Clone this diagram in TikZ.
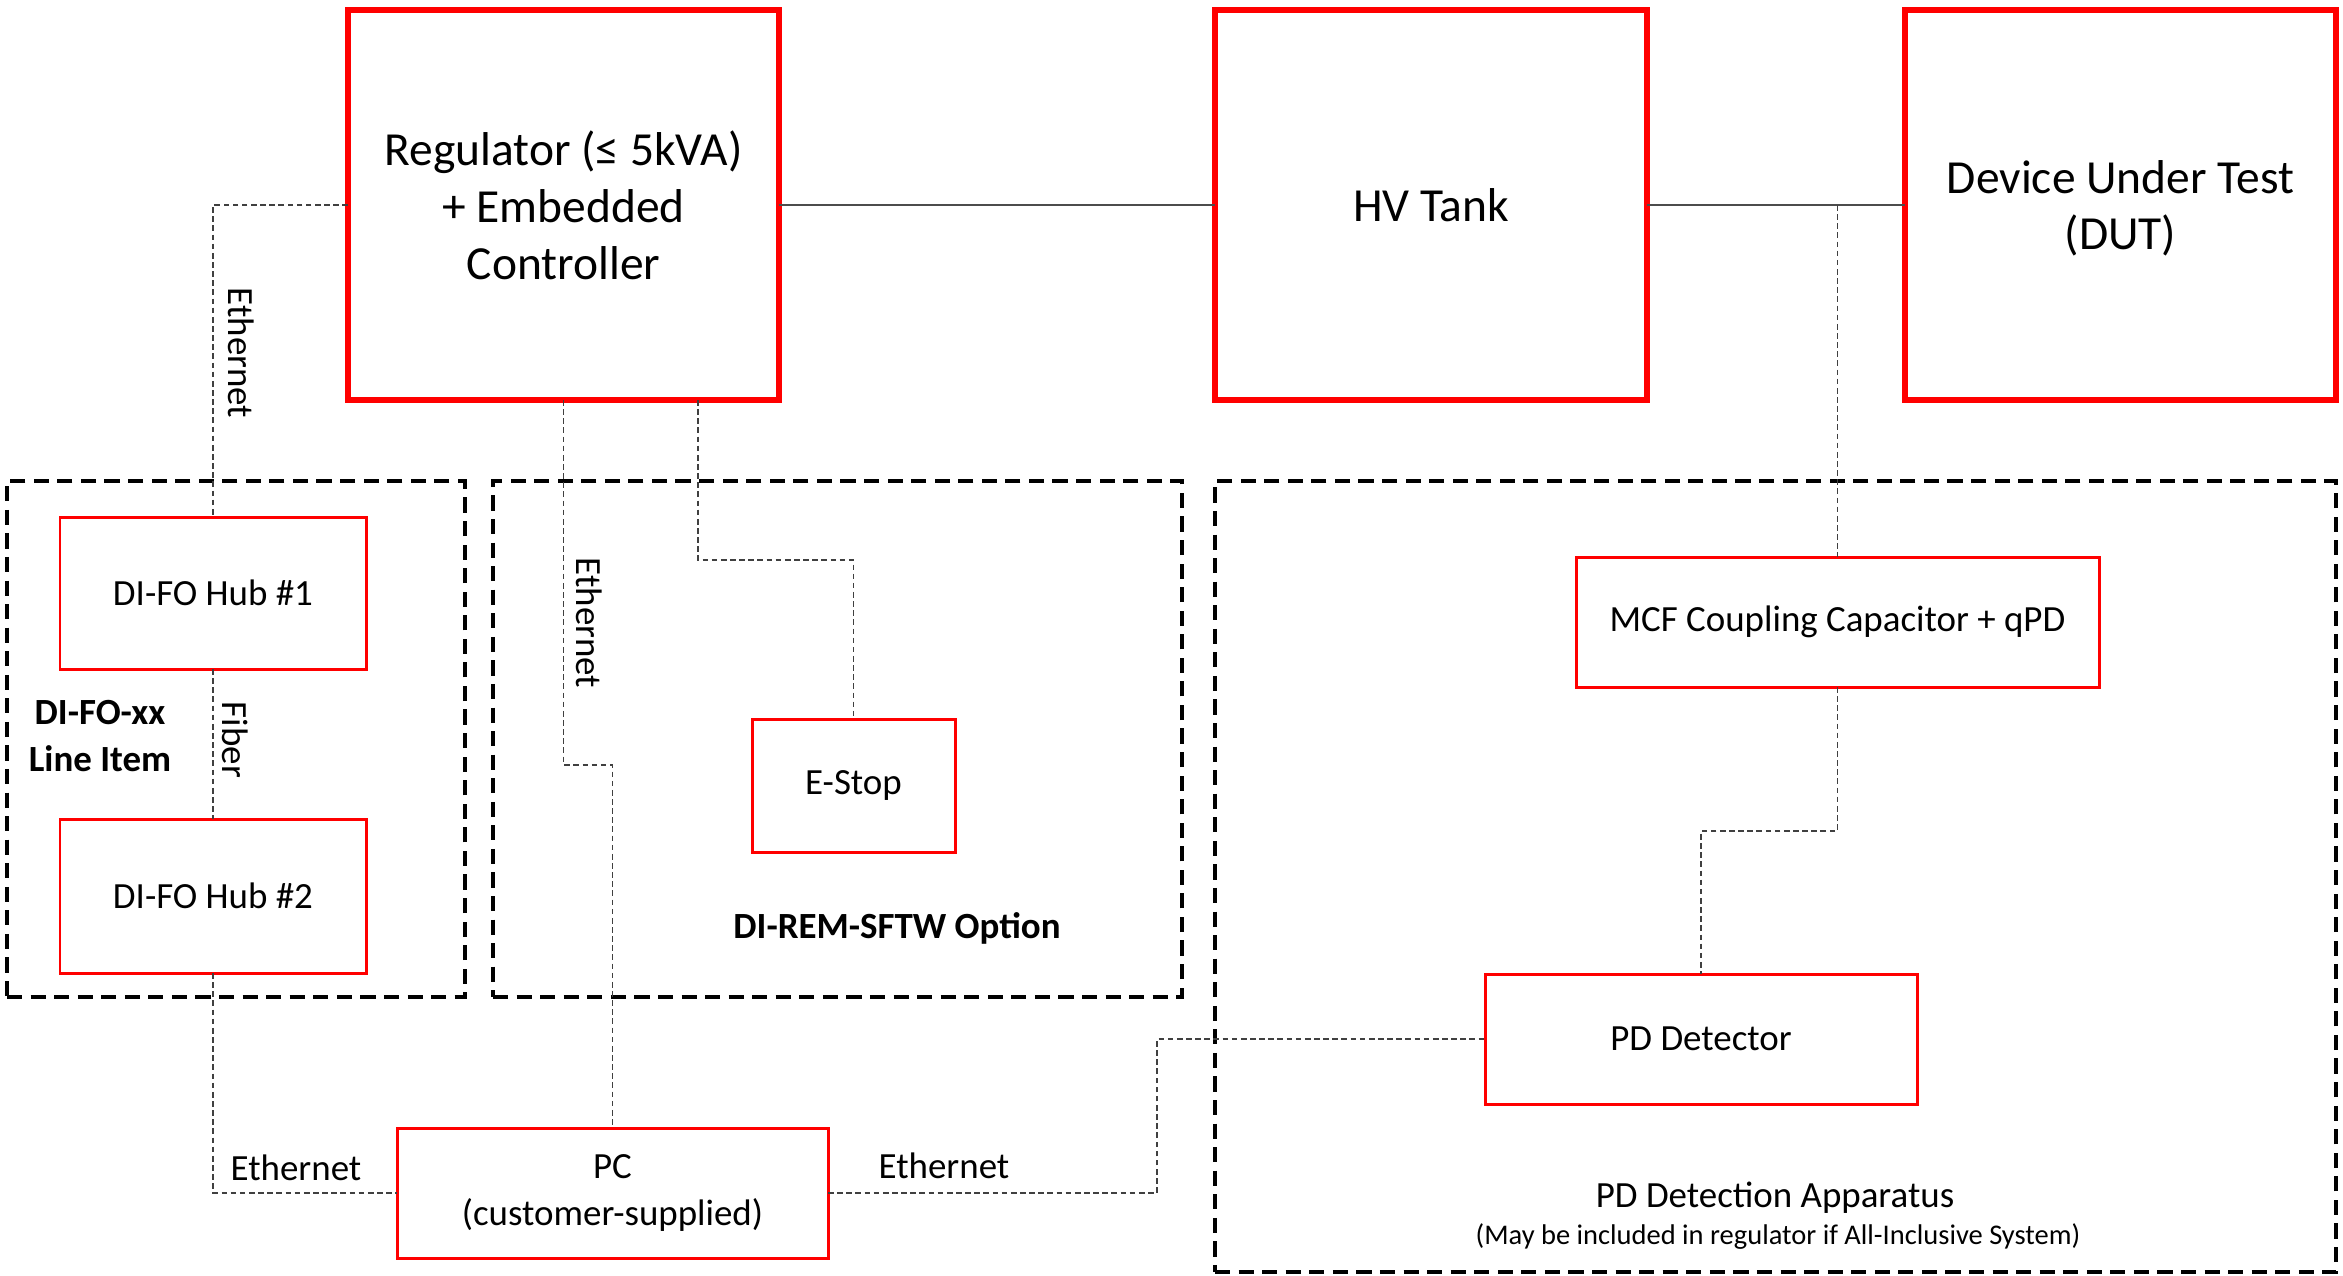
\documentclass[tikz,border=0pt]{standalone}
\usepackage{fontspec}
\setmainfont{Carlito}
\begin{document}
\begin{tikzpicture}[x=0.01cm,y=-0.01cm,
  bigbox/.style={draw=red,line width=1.8pt,rectangle,inner sep=0pt,outer sep=0pt,align=center,
    font=\fontsize{13.5}{16.2}\selectfont},
  smallbox/.style={draw=red,line width=0.85pt,rectangle,inner sep=0pt,outer sep=0pt,align=center,
    font=\fontsize{10.5}{13}\selectfont},
  groupbox/.style={draw=black,line width=1.1pt,dash pattern=on 4.3pt off 2.4pt,rectangle,inner sep=0pt,outer sep=0pt},
  power/.style={draw=black!70,line width=0.5pt},
  conn/.style={draw=black!75,line width=0.4pt,dash pattern=on 1.6pt off 1pt},
  lbl/.style={font=\fontsize{10.5}{13}\selectfont,inner sep=0pt,align=center},
]
\useasboundingbox (0,0) rectangle (2343,1275);

% option groups
\node[groupbox,minimum width=458*0.01cm,minimum height=516*0.01cm] (gfo) at (236,739) {};
\node[groupbox,minimum width=689*0.01cm,minimum height=516*0.01cm] (grem) at (837.5,739) {};
\node[groupbox,minimum width=1121*0.01cm,minimum height=791*0.01cm] (gpd) at (1775.5,876.5) {};

% main equipment
\node[bigbox,minimum width=431*0.01cm,minimum height=390*0.01cm] (reg) at (563.5,205)
  {Regulator (≤ 5kVA)\\+ Embedded\\Controller};
\node[bigbox,minimum width=432*0.01cm,minimum height=390*0.01cm] (hv) at (1431,205) {HV Tank};
\node[bigbox,minimum width=431*0.01cm,minimum height=390*0.01cm,
  text depth=0pt] (dut) at (2120.5,205) {Device Under Test\\(DUT)};

% peripheral units
\node[smallbox,minimum width=306*0.01cm,minimum height=152*0.01cm] (hub1) at (213,593) {DI-FO Hub \#1};
\node[smallbox,minimum width=306*0.01cm,minimum height=154*0.01cm] (hub2) at (213,896) {DI-FO Hub \#2};
\node[smallbox,minimum width=203*0.01cm,minimum height=133*0.01cm] (estop) at (853.5,785.5) {E-Stop};
\node[smallbox,minimum width=523*0.01cm,minimum height=130*0.01cm] (mcf) at (1837.5,622) {MCF Coupling Capacitor + qPD};
\node[smallbox,minimum width=432*0.01cm,minimum height=130*0.01cm] (pddet) at (1701,1039) {PD Detector};
\node[smallbox,minimum width=431*0.01cm,minimum height=130*0.01cm,
  font=\fontsize{10.5}{13.4}\selectfont] (pc) at (612.5,1193) {PC\\(customer-supplied)};

% group captions
\node[lbl,font=\fontsize{10.5}{13.2}\selectfont\bfseries] (tfo) at (100,736) {DI-FO-xx\\Line Item};
\node[lbl,font=\fontsize{10.5}{13}\selectfont\bfseries] (trem) at (897,928) {DI-REM-SFTW Option};
\node[lbl] (tpd) at (1775,1198) {PD Detection Apparatus};
\node[lbl,font=\fontsize{8.1}{9}\selectfont] (tpd2) at (1778,1237) {(May be included in regulator if All-Inclusive System)};

% power path
\draw[power] (reg.east) -- (hv.west);
\draw[power] (hv.east) -- (dut.west);
\coordinate (tap) at (mcf.north |- hv.east);
\draw[conn] (tap) -- (mcf.north);

% signal links
\draw[conn] (reg.west) -| (hub1.north);
\draw[conn] (hub1.south) -- (hub2.north);
\draw[conn] (hub2.south) |- (pc.west);
\coordinate (k1) at (563.5,765);
\draw[conn] (reg.south) -- (k1) -| (pc.north);
\coordinate (e1) at (698,560);
\draw[conn] (reg.south -| e1) -- (e1) -| (estop.north);
\coordinate (p1) at (1157,1193);
\draw[conn] (pc.east) -- (p1) |- (pddet.west);
\coordinate (m1) at (1837.5,831);
\draw[conn] (mcf.south) -- (m1) -| (pddet.north);

% link labels
\node[lbl,rotate=-90] (l1) at (241,353) {Ethernet};
\node[lbl,rotate=-90] (l2) at (235,740) {Fiber};
\node[lbl,rotate=-90] (l3) at (589,623) {Ethernet};
\node[lbl] (l4) at (296,1168) {Ethernet};
\node[lbl] (l5) at (944,1166) {Ethernet};
\end{tikzpicture}
\end{document}
